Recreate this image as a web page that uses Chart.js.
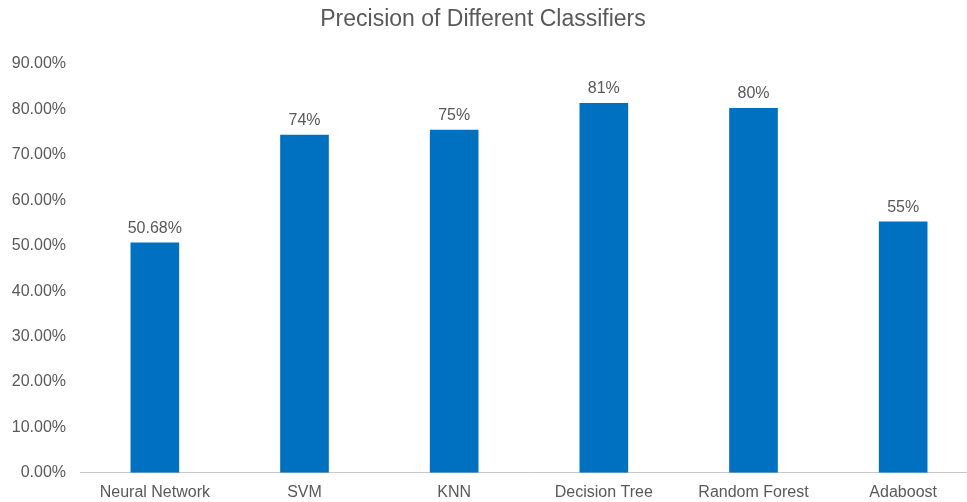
<!DOCTYPE html>
<html>
<head>
<meta charset="utf-8">
<script src="https://cdn.jsdelivr.net/npm/chart.js@4"></script>
<style>
    html, body { margin: 0; padding: 0; background: #fff; overflow: hidden; }
    #wrap { width: 980px; height: 512px; }
</style>
</head>
<body>
<div id="wrap"><canvas id="chart"></canvas></div>
<script>
// 数据
const classifiers = ['Neural Network', 'SVM', 'KNN', 'Decision Tree', 'Random Forest', 'Adaboost'];
const precision = [50.68, 74.4, 75.5, 81.4, 80.3, 55.3];
const valueLabels = ['50.68%', '74%', '75%', '81%', '80%', '55%'];
const chartTitle = 'Precision of Different Classifiers';

const textColor = '#595959';
const fontFamily = '"Liberation Sans", Arial, sans-serif';

// 标题（按原图位置居中）
const titlePlugin = {
    id: 'titlePlugin',
    afterDraw(chart) {
        const ctx = chart.ctx;
        ctx.save();
        ctx.fillStyle = textColor;
        ctx.font = '23px ' + fontFamily;
        ctx.textAlign = 'center';
        ctx.textBaseline = 'middle';
        ctx.fillText(chartTitle, 483, 20);
        ctx.restore();
    }
};

// 柱顶数值标签
const barLabels = {
    id: 'barLabels',
    afterDatasetsDraw(chart) {
        const ctx = chart.ctx;
        const meta = chart.getDatasetMeta(0);
        ctx.save();
        ctx.fillStyle = textColor;
        ctx.font = '16px ' + fontFamily;
        ctx.textAlign = 'center';
        ctx.textBaseline = 'alphabetic';
        meta.data.forEach((bar, i) => {
            ctx.fillText(valueLabels[i], bar.x, bar.y - 10);
        });
        ctx.restore();
    }
};

new Chart(document.getElementById('chart'), {
    type: 'bar',
    data: {
        labels: classifiers,
        datasets: [{
            data: precision,
            backgroundColor: '#0070C0',
            categoryPercentage: 1,
            barPercentage: 0.325
        }]
    },
    options: {
        responsive: true,
        maintainAspectRatio: false,
        animation: false,
        layout: { padding: { left: 10, right: 2, top: 64, bottom: 0 } },
        plugins: {
            legend: { display: false },
            tooltip: { enabled: false },
            title: { display: false }
        },
        scales: {
            x: {
                grid: { display: false, drawTicks: false },
                border: { display: true, color: '#c8c8c8', width: 1 },
                ticks: {
                    color: textColor,
                    font: { family: fontFamily, size: 16 },
                    padding: 10,
                    maxRotation: 0
                }
            },
            y: {
                min: 0,
                max: 90,
                grid: { display: false, drawTicks: false },
                border: { display: false },
                afterFit: scale => { scale.width = 70; },
                ticks: {
                    stepSize: 10,
                    color: textColor,
                    font: { family: fontFamily, size: 16 },
                    padding: 14,
                    callback: v => v.toFixed(2) + '%'
                }
            }
        }
    },
    plugins: [barLabels, titlePlugin]
});
</script>
</body>
</html>
